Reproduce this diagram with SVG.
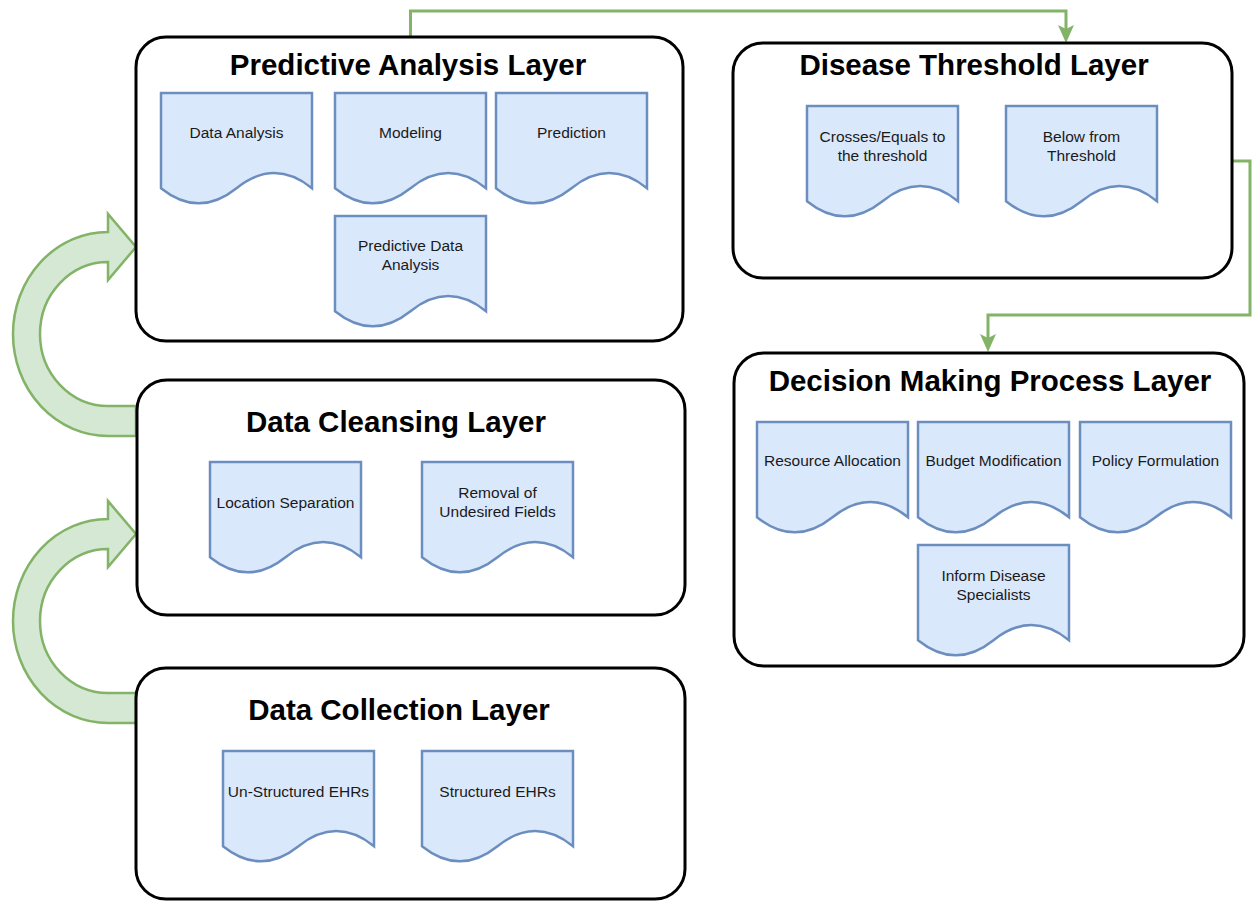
<svg xmlns="http://www.w3.org/2000/svg" width="1254" height="902" viewBox="0 0 1254 902">
<defs>
<style>
.layer{fill:#ffffff;stroke:#000000;stroke-width:3}
.title{font-family:"Liberation Sans",Arial,sans-serif;font-weight:bold;font-size:29.5px;fill:#000000;text-anchor:middle}
.doc{fill:#dae8fc;stroke:#6c8ebf;stroke-width:2.5}
.lbl{font-family:"Liberation Sans",Arial,sans-serif;font-size:15.5px;fill:#1a1a1a;text-anchor:middle}
.conn{fill:none;stroke:#82b366;stroke-width:3}
.bigarrow{fill:#d5e8d4;stroke:#82b366;stroke-width:2.5}
</style>
<marker id="arr" viewBox="0 0 18 16" refX="8" refY="8" markerWidth="18" markerHeight="16" markerUnits="userSpaceOnUse" orient="auto">
<path d="M0,0 L18,8 L0,16 L4,8 Z" fill="#82b366"/>
</marker>
</defs>
<rect width="1254" height="902" fill="#ffffff"/>

<g id="connectors">
<path class="bigarrow" d="M136,436 L108,436 A95,102 0 0 1 13,334 A95,102 0 0 1 108,232 L108,214 L136,247 L108,280 L108,262 A68,72 0 0 0 40,334 A68,72 0 0 0 108,406 L136,406 Z"/>
<path class="bigarrow" d="M136,723 L108,723 A95,102 0 0 1 13,621 A95,102 0 0 1 108,519 L108,501 L136,534 L108,567 L108,549 A68,72 0 0 0 40,621 A68,72 0 0 0 108,693 L136,693 Z"/>
<path class="conn" d="M410.5,37 V11 H1066 V33" marker-end="url(#arr)"/>
<path class="conn" d="M1232,161 H1250 V315 H988 V342" marker-end="url(#arr)"/>
</g>

<g id="predictive-analysis-layer">
<rect class="layer" x="136" y="37" width="547" height="304" rx="30"/>
<text class="title" x="408" y="75">Predictive Analysis Layer</text>
<path class="doc" d="M161,93 h151 v95.2 q-37.75,-30.24 -75.5,0 q-37.75,30.24 -75.5,0 z"/>
<text class="lbl" x="236.5" y="138">Data Analysis</text>
<path class="doc" d="M335,93 h151 v95.2 q-37.75,-30.24 -75.5,0 q-37.75,30.24 -75.5,0 z"/>
<text class="lbl" x="410.5" y="138">Modeling</text>
<path class="doc" d="M496,93 h151 v95.2 q-37.75,-30.24 -75.5,0 q-37.75,30.24 -75.5,0 z"/>
<text class="lbl" x="571.5" y="138">Prediction</text>
<path class="doc" d="M335,216 h151 v95.2 q-37.75,-30.24 -75.5,0 q-37.75,30.24 -75.5,0 z"/>
<text class="lbl" x="410.5" y="251">Predictive Data</text>
<text class="lbl" x="410.5" y="270">Analysis</text>
</g>

<g id="disease-threshold-layer">
<rect class="layer" x="733" y="43" width="499" height="235" rx="30"/>
<text class="title" x="974" y="75">Disease Threshold Layer</text>
<path class="doc" d="M807,106 h151 v95.2 q-37.75,-30.24 -75.5,0 q-37.75,30.24 -75.5,0 z"/>
<text class="lbl" x="882.5" y="141.5">Crosses/Equals to</text>
<text class="lbl" x="882.5" y="160.5">the threshold</text>
<path class="doc" d="M1006,106 h151 v95.2 q-37.75,-30.24 -75.5,0 q-37.75,30.24 -75.5,0 z"/>
<text class="lbl" x="1081.5" y="141.5">Below from</text>
<text class="lbl" x="1081.5" y="160.5">Threshold</text>
</g>

<g id="data-cleansing-layer">
<rect class="layer" x="137" y="380" width="548" height="235" rx="30"/>
<text class="title" x="396" y="432">Data Cleansing Layer</text>
<path class="doc" d="M210,462 h151 v95.2 q-37.75,-30.24 -75.5,0 q-37.75,30.24 -75.5,0 z"/>
<text class="lbl" x="285.5" y="507.5">Location Separation</text>
<path class="doc" d="M422,462 h151 v95.2 q-37.75,-30.24 -75.5,0 q-37.75,30.24 -75.5,0 z"/>
<text class="lbl" x="497.5" y="498">Removal of</text>
<text class="lbl" x="497.5" y="517">Undesired Fields</text>
</g>

<g id="decision-making-process-layer">
<rect class="layer" x="734" y="353" width="510" height="313" rx="30"/>
<text class="title" x="990" y="391">Decision Making Process Layer</text>
<path class="doc" d="M757,422 h151 v95.2 q-37.75,-30.24 -75.5,0 q-37.75,30.24 -75.5,0 z"/>
<text class="lbl" x="832.5" y="466">Resource Allocation</text>
<path class="doc" d="M918,422 h151 v95.2 q-37.75,-30.24 -75.5,0 q-37.75,30.24 -75.5,0 z"/>
<text class="lbl" x="993.5" y="466">Budget Modification</text>
<path class="doc" d="M1080,422 h151 v95.2 q-37.75,-30.24 -75.5,0 q-37.75,30.24 -75.5,0 z"/>
<text class="lbl" x="1155.5" y="466">Policy Formulation</text>
<path class="doc" d="M918,545 h151 v95.2 q-37.75,-30.24 -75.5,0 q-37.75,30.24 -75.5,0 z"/>
<text class="lbl" x="993.5" y="580.5">Inform Disease</text>
<text class="lbl" x="993.5" y="599.5">Specialists</text>
</g>

<g id="data-collection-layer">
<rect class="layer" x="136" y="668" width="549" height="231" rx="30"/>
<text class="title" x="399" y="720">Data Collection Layer</text>
<path class="doc" d="M223,751 h151 v95.2 q-37.75,-30.24 -75.5,0 q-37.75,30.24 -75.5,0 z"/>
<text class="lbl" x="298.5" y="796.5">Un-Structured EHRs</text>
<path class="doc" d="M422,751 h151 v95.2 q-37.75,-30.24 -75.5,0 q-37.75,30.24 -75.5,0 z"/>
<text class="lbl" x="497.5" y="796.5">Structured EHRs</text>
</g>
</svg>
